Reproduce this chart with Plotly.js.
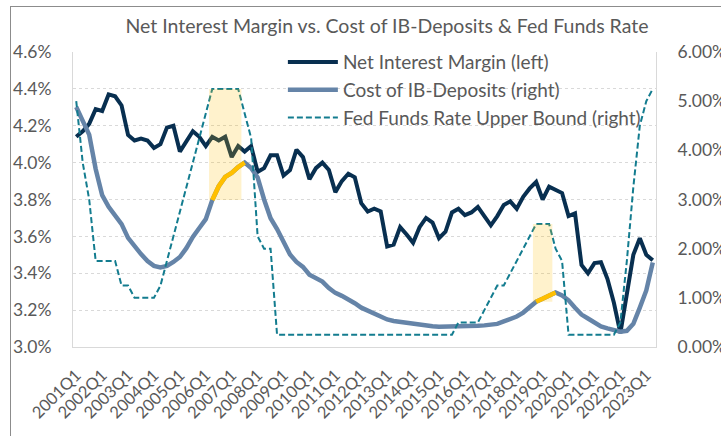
<!DOCTYPE html>
<html><head><meta charset="utf-8">
<script src="https://cdn.plot.ly/plotly-3.0.1.min.js"></script>
<style>
html,body{margin:0;padding:0;background:#fff;overflow:hidden;}
#chart{width:721px;height:436px;}
#frame{position:absolute;left:10px;top:6px;width:800px;height:500px;border-left:1px solid #8c8c8c;border-top:1px solid #8c8c8c;pointer-events:none;}
</style></head>
<body><div id="chart"></div><div id="frame"></div>
<script>
const quarters = [
 '2001Q1','2001Q2','2001Q3','2001Q4','2002Q1','2002Q2','2002Q3','2002Q4',
 '2003Q1','2003Q2','2003Q3','2003Q4','2004Q1','2004Q2','2004Q3','2004Q4',
 '2005Q1','2005Q2','2005Q3','2005Q4','2006Q1','2006Q2','2006Q3','2006Q4',
 '2007Q1','2007Q2','2007Q3','2007Q4','2008Q1','2008Q2','2008Q3','2008Q4',
 '2009Q1','2009Q2','2009Q3','2009Q4','2010Q1','2010Q2','2010Q3','2010Q4',
 '2011Q1','2011Q2','2011Q3','2011Q4','2012Q1','2012Q2','2012Q3','2012Q4',
 '2013Q1','2013Q2','2013Q3','2013Q4','2014Q1','2014Q2','2014Q3','2014Q4',
 '2015Q1','2015Q2','2015Q3','2015Q4','2016Q1','2016Q2','2016Q3','2016Q4',
 '2017Q1','2017Q2','2017Q3','2017Q4','2018Q1','2018Q2','2018Q3','2018Q4',
 '2019Q1','2019Q2','2019Q3','2019Q4','2020Q1','2020Q2','2020Q3','2020Q4',
 '2021Q1','2021Q2','2021Q3','2021Q4','2022Q1','2022Q2','2022Q3','2022Q4',
 '2023Q1','2023Q2'];

const tickLabels = ['2001Q1','2002Q1','2003Q1','2004Q1','2005Q1','2006Q1','2007Q1','2008Q1',
 '2009Q1','2010Q1','2011Q1','2012Q1','2013Q1','2014Q1','2015Q1','2016Q1','2017Q1','2018Q1',
 '2019Q1','2020Q1','2021Q1','2022Q1','2023Q1'];

// Net Interest Margin (left axis, %)
const netInterestMargin = [
 4.14,4.17,4.21,4.29, 4.28,4.37,4.36,4.31, 4.15,4.12,4.13,4.12, 4.08,4.10,4.19,4.20,
 4.06,4.12,4.17,4.14, 4.09,4.14,4.12,4.14, 4.03,4.09,4.06,4.09, 3.95,3.97,4.04,4.04,
 3.93,3.96,4.07,4.03, 3.91,3.97,4.00,3.96, 3.84,3.90,3.94,3.92, 3.78,3.735,3.75,3.735,
 3.545,3.555,3.65,3.61, 3.565,3.65,3.70,3.675, 3.59,3.625,3.73,3.75, 3.715,3.73,3.76,3.71,
 3.66,3.71,3.77,3.79, 3.75,3.815,3.86,3.895, 3.80,3.87,3.85,3.835, 3.71,3.725,3.445,3.40,
 3.455,3.46,3.37,3.24, 3.075,3.28,3.50,3.59, 3.50,3.47];

// Cost of interest-bearing deposits (right axis, %)
const costOfDeposits = [
 4.88,4.62,4.32,3.62, 3.09,2.85,2.69,2.50, 2.22,2.05,1.89,1.75, 1.65,1.62,1.65,1.73,
 1.83,2.01,2.24,2.42, 2.60,2.99,3.27,3.46, 3.54,3.66,3.75,3.64, 3.45,3.00,2.62,2.40,
 2.12,1.88,1.73,1.63, 1.47,1.41,1.33,1.20, 1.10,1.04,0.97,0.89, 0.80,0.74,0.68,0.62,
 0.56,0.53,0.51,0.48, 0.46,0.44,0.43,0.42, 0.41,0.41,0.41,0.42, 0.42,0.43,0.43,0.44,
 0.45,0.47,0.52,0.57, 0.62,0.70,0.80,0.92, 0.98,1.05,1.11,1.05, 0.95,0.80,0.66,0.58,
 0.49,0.42,0.38,0.35, 0.31,0.33,0.47,0.80, 1.15,1.72];

// Fed Funds Rate upper bound (right axis, %)
const fedFundsUpper = [
 5.00,3.75,3.00,1.75, 1.75,1.75,1.75,1.25, 1.25,1.00,1.00,1.00, 1.00,1.25,1.75,2.25,
 2.75,3.25,3.75,4.25, 4.75,5.25,5.25,5.25, 5.25,5.25,4.75,4.25, 2.25,2.00,2.00,0.25,
 0.25,0.25,0.25,0.25, 0.25,0.25,0.25,0.25, 0.25,0.25,0.25,0.25, 0.25,0.25,0.25,0.25,
 0.25,0.25,0.25,0.25, 0.25,0.25,0.25,0.25, 0.25,0.25,0.25,0.50, 0.50,0.50,0.50,0.75,
 1.00,1.25,1.25,1.50, 1.75,2.00,2.25,2.50, 2.50,2.50,2.00,1.75, 0.25,0.25,0.25,0.25,
 0.25,0.25,0.25,0.25, 0.50,1.75,3.25,4.50, 5.00,5.25];

// Highlighted periods
const highlightStart = ['2006Q2','2018Q4'];
const highlightEnd   = ['2007Q3','2019Q3'];

const FONT = 'Lato, "Open Sans", sans-serif';
const TXT = '#595959';

const traces = [
 {x: quarters, y: netInterestMargin, name: 'Net Interest Margin (left)', type: 'scatter', mode: 'lines',
  line: {color: '#082F50', width: 4}, yaxis: 'y', legendgroup: 'a'},
 {x: quarters, y: costOfDeposits, name: 'Cost of IB-Deposits (right)', type: 'scatter', mode: 'lines',
  line: {color: '#6584A8', width: 4.5}, yaxis: 'y2', legendgroup: 'b'},
 {x: quarters, y: fedFundsUpper, name: 'Fed Funds Rate Upper Bound (right)', type: 'scatter', mode: 'lines',
  line: {color: '#137C8F', width: 2, dash: '6px,3px'}, yaxis: 'y2', legendgroup: 'c'}
];

const shapes = [];
highlightStart.forEach((s, k) => {
  const i0 = quarters.indexOf(s), i1 = quarters.indexOf(highlightEnd[k]);
  traces.push({x: quarters.slice(i0, i1 + 1), y: costOfDeposits.slice(i0, i1 + 1), type: 'scatter', mode: 'lines',
    line: {color: '#FFC000', width: 4.5}, yaxis: 'y2', showlegend: false, hoverinfo: 'skip'});
  shapes.push({type: 'rect', xref: 'x', yref: 'y2', x0: i0 - 0.5, x1: i1 - 0.5,
    y0: costOfDeposits[i0], y1: Math.max(...fedFundsUpper.slice(i0, i1 + 1)),
    fillcolor: 'rgba(255,192,0,0.2)', line: {width: 0}, layer: 'above'});
});

const layout = {
  width: 721, height: 436,
  margin: {l: 73, r: 65, t: 52, b: 89, pad: 0, autoexpand: false},
  paper_bgcolor: '#fff', plot_bgcolor: '#fff',
  font: {family: FONT, color: TXT, size: 17},
  title: {text: 'Net Interest Margin vs. Cost of IB-Deposits & Fed Funds Rate',
    font: {family: FONT, size: 19.5, color: TXT},
    xref: 'container', x: 387/721, xanchor: 'center', yref: 'container', y: 1 - 26/436, yanchor: 'middle'},
  showlegend: true,
  legend: {x: 0.36, y: 1.03, xanchor: 'left', yanchor: 'top',
    bgcolor: 'rgba(0,0,0,0)', font: {family: FONT, size: 19, color: TXT}, tracegroupgap: 0, itemwidth: 50},
  xaxis: {type: 'category', categoryorder: 'array', categoryarray: quarters, range: [-0.5, quarters.length - 0.5],
    tickmode: 'array', tickvals: tickLabels, ticktext: tickLabels, tickangle: -45, ticks: '',
    ticklabelstandoff: 11, automargin: false,
    tickfont: {family: FONT, size: 16.5, color: TXT},
    showgrid: false, showline: true, linecolor: '#D9D9D9', linewidth: 1, zeroline: false, fixedrange: true},
  yaxis: {range: [3.0, 4.6], dtick: 0.2, tick0: 3.0, tickformat: '.1f', ticksuffix: '%', ticks: '',
    ticklabelstandoff: 17, automargin: false,
    tickfont: {family: FONT, size: 17.5, color: TXT},
    showgrid: true, gridcolor: '#D9D9D9', griddash: 'dot', gridwidth: 1,
    showline: true, linecolor: '#D9D9D9', zeroline: false},
  yaxis2: {range: [0, 6], dtick: 1, tick0: 0, tickformat: '.2f', ticksuffix: '%', ticks: '',
    overlaying: 'y', side: 'right', ticklabelstandoff: 17, automargin: false,
    tickfont: {family: FONT, size: 17.5, color: TXT},
    showgrid: false, showline: true, linecolor: '#D9D9D9', zeroline: false},
  shapes: shapes
};

Plotly.newPlot('chart', traces, layout, {displayModeBar: false, staticPlot: true});
</script>
</body></html>
